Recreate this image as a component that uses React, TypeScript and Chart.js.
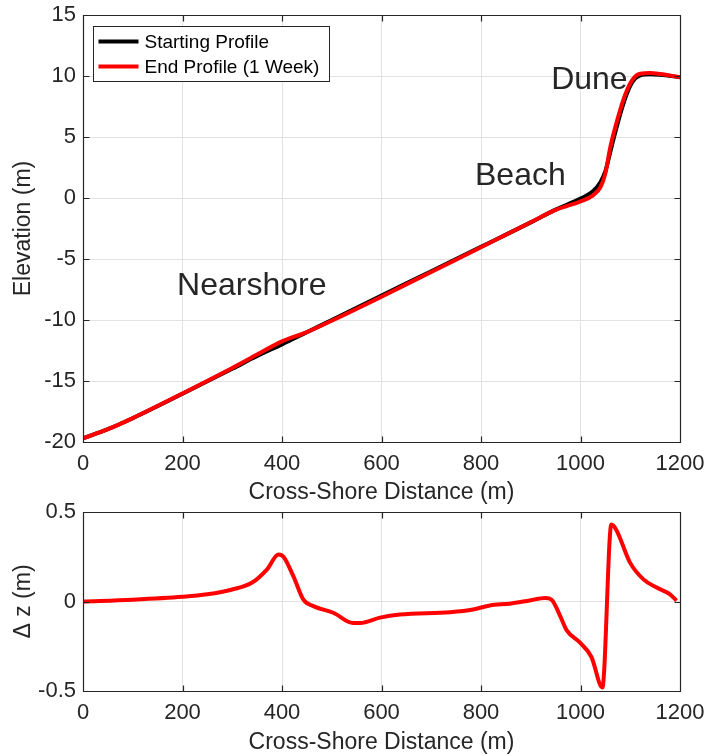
import { useEffect, useRef } from "react";
import { Chart, registerables } from "chart.js";

Chart.register(...registerables);

// ---------- data ----------
const profileDistance = [0, 50, 100, 200, 300, 350, 400, 450, 500, 600, 700, 800, 900, 950, 1000, 1025, 1040, 1050, 1060, 1070, 1080, 1090, 1100, 1110, 1120, 1140, 1160, 1200];
const startingProfile = [-19.7, -18.95, -18.05, -16.05, -14.0, -12.95, -12.0, -11.0, -10.0, -8.0, -6.0, -4.0, -2.0, -0.95, -0.05, 0.55, 1.3, 2.2, 3.8, 5.4, 6.9, 8.2, 9.2, 9.8, 10.05, 10.15, 10.1, 9.9];
const endProfile = [-19.7, -18.95, -18.04, -16.02, -13.93, -12.83, -11.75, -10.99, -10.06, -8.09, -6.06, -4.04, -1.99, -0.98, -0.28, 0.22, 0.88, 2.02, 4.18, 5.81, 7.25, 8.48, 9.41, 9.97, 10.19, 10.24, 10.16, 9.9];

const dzDistance = [0, 100, 200, 250, 300, 340, 370, 393, 403, 423, 443, 463, 503, 543, 557, 597, 637, 738, 784, 818, 858, 898, 929, 942, 959, 972, 999, 1022, 1044, 1062, 1072, 1099, 1126, 1153, 1180, 1193];
const dzValues = [0.0, 0.01, 0.026, 0.04, 0.067, 0.106, 0.18, 0.263, 0.25, 0.14, 0.01, -0.026, -0.063, -0.12, -0.12, -0.09, -0.073, -0.06, -0.045, -0.022, -0.012, 0.006, 0.02, 0.01, -0.08, -0.16, -0.23, -0.31, -0.48, 0.43, 0.4, 0.22, 0.125, 0.078, 0.04, 0.005];

const seriesLabels = ["Starting Profile", "End Profile (1 Week)"];
const seriesColors = ["#000000", "#ff0000"];

const regionNames = ["Nearshore", "Beach", "Dune"];
const regionDistance = [189, 788, 941];
const regionElevation = [-7.95, 1.07, 8.93];

const xMin = 0, xMax = 1200, xStep = 200;
const elevMin = -20, elevMax = 15, elevStep = 5;
const dzMin = -0.5, dzMax = 0.5, dzStep = 0.5;

const xTitle = "Cross-Shore Distance (m)";
const elevTitle = "Elevation (m)";
const dzTitle = "\u0394 z (m)";

// ---------- styling ----------
const FONT = "'Liberation Sans', Arial, Helvetica, sans-serif";
const TEXT = "#262626";
const GRID = "#e2e2e2";

const boxPlugin = {
  id: "matlabBox",
  afterDatasetsDraw(chart: any) {
    const { ctx, chartArea: a, scales } = chart;
    const L = Math.round(a.left) + 0.5, R = Math.round(a.right) + 0.5;
    const T = Math.round(a.top) + 0.5, B = Math.round(a.bottom) + 0.5;
    ctx.save();
    ctx.strokeStyle = TEXT;
    ctx.lineWidth = 1.2;
    ctx.beginPath();
    ctx.rect(L, T, R - L, B - T);
    const tl = 6;
    scales.x.ticks.forEach((t: any) => {
      const p = Math.round(scales.x.getPixelForValue(t.value)) + 0.5;
      ctx.moveTo(p, B); ctx.lineTo(p, B - tl);
      ctx.moveTo(p, T); ctx.lineTo(p, T + tl);
    });
    scales.y.ticks.forEach((t: any) => {
      const p = Math.round(scales.y.getPixelForValue(t.value)) + 0.5;
      ctx.moveTo(L, p); ctx.lineTo(L + tl, p);
      ctx.moveTo(R, p); ctx.lineTo(R - tl, p);
    });
    ctx.stroke();
    ctx.restore();
  },
};

const regionPlugin = {
  id: "regionLabels",
  afterDatasetsDraw(chart: any) {
    const { ctx, scales } = chart;
    ctx.save();
    ctx.fillStyle = TEXT;
    ctx.font = `32px ${FONT}`;
    ctx.textAlign = "left";
    ctx.textBaseline = "alphabetic";
    regionNames.forEach((name, i) => {
      ctx.fillText(name, scales.x.getPixelForValue(regionDistance[i]), scales.y.getPixelForValue(regionElevation[i]));
    });
    ctx.restore();
  },
};

const legendPlugin = {
  id: "boxLegend",
  afterDraw(chart: any) {
    const { ctx, chartArea: a } = chart;
    const x = Math.round(a.left + 10) + 0.5;
    const y = Math.round(a.top + 11) + 0.5;
    const w = 236, h = 55;
    ctx.save();
    ctx.fillStyle = "#ffffff";
    ctx.fillRect(x, y, w, h);
    ctx.strokeStyle = TEXT;
    ctx.lineWidth = 1;
    ctx.strokeRect(x, y, w, h);
    ctx.font = `19px ${FONT}`;
    ctx.textBaseline = "middle";
    ctx.textAlign = "left";
    seriesLabels.forEach((lab, i) => {
      const ry = y + 15 + i * 25;
      ctx.strokeStyle = seriesColors[i];
      ctx.lineWidth = 4;
      ctx.beginPath();
      ctx.moveTo(x + 5, ry);
      ctx.lineTo(x + 45, ry);
      ctx.stroke();
      ctx.fillStyle = "#000000";
      ctx.fillText(lab, x + 51, ry + 1);
    });
    ctx.restore();
  },
};

const plainTick = (v: any) => String(v);

function xScale(height: number, titlePadTop: number) {
  return {
    type: "linear",
    min: xMin,
    max: xMax,
    afterFit(s: any) {
      s.height = height;
      s.paddingLeft = 0;
      s.paddingRight = 0;
    },
    ticks: { stepSize: xStep, color: TEXT, font: { family: FONT, size: 22 }, padding: 9, maxRotation: 0, callback: plainTick },
    grid: { color: GRID, lineWidth: 1, drawTicks: false },
    border: { display: false },
    title: { display: true, text: xTitle, color: TEXT, font: { family: FONT, size: 23 }, padding: { top: titlePadTop, bottom: 0 } },
  };
}

function yScale(min: number, max: number, step: number, title: string) {
  return {
    type: "linear",
    min,
    max,
    afterFit(s: any) {
      s.width = 83;
      s.paddingTop = 0;
      s.paddingBottom = 0;
    },
    ticks: { stepSize: step, color: TEXT, font: { family: FONT, size: 22 }, padding: 7, callback: plainTick },
    grid: { color: GRID, lineWidth: 1, drawTicks: false },
    border: { display: false },
    title: { display: true, text: title, color: TEXT, font: { family: FONT, size: 23 }, padding: { top: 10, bottom: 0 } },
  };
}

const pts = (xs: number[], ys: number[]) => xs.map((x, i) => ({ x, y: ys[i] }));

export default function App() {
  const topRef = useRef<HTMLCanvasElement>(null);
  const botRef = useRef<HTMLCanvasElement>(null);

  useEffect(() => {
    const common = {
      animation: false,
      responsive: false,
      events: [],
    };
    const c1 = new Chart(topRef.current as HTMLCanvasElement, {
      type: "line",
      data: {
        datasets: [
          { label: seriesLabels[0], data: pts(profileDistance, startingProfile), borderColor: seriesColors[0], borderWidth: 4, pointRadius: 0, cubicInterpolationMode: "monotone", order: 1 },
          { label: seriesLabels[1], data: pts(profileDistance, endProfile), borderColor: seriesColors[1], borderWidth: 4, pointRadius: 0, cubicInterpolationMode: "monotone", order: 0 },
        ],
      } as any,
      options: {
        ...common,
        layout: { padding: { top: 15, right: 27, left: 0, bottom: 0 } },
        scales: { x: xScale(64, 2), y: yScale(elevMin, elevMax, elevStep, elevTitle) },
        plugins: { legend: { display: false }, tooltip: { enabled: false } },
      } as any,
      plugins: [boxPlugin, regionPlugin, legendPlugin],
    });
    const c2 = new Chart(botRef.current as HTMLCanvasElement, {
      type: "line",
      data: {
        datasets: [
          { label: "\u0394 z", data: pts(dzDistance, dzValues), borderColor: seriesColors[1], borderWidth: 4, pointRadius: 0, cubicInterpolationMode: "monotone" },
        ],
      } as any,
      options: {
        ...common,
        layout: { padding: { top: 16, right: 27, left: 0, bottom: 0 } },
        scales: { x: xScale(65, 0), y: yScale(dzMin, dzMax, dzStep, dzTitle) },
        plugins: { legend: { display: false }, tooltip: { enabled: false } },
      } as any,
      plugins: [boxPlugin],
    });
    return () => {
      c1.destroy();
      c2.destroy();
    };
  }, []);

  return (
    <div style={{ position: "absolute", left: 0, top: 0, width: 707, height: 756, background: "#ffffff", overflow: "hidden" }}>
      <canvas ref={topRef} width={707} height={506} style={{ position: "absolute", left: 0, top: 0, width: 707, height: 506, display: "block" }} />
      <canvas ref={botRef} width={707} height={260} style={{ position: "absolute", left: 0, top: 496, width: 707, height: 260, display: "block" }} />
    </div>
  );
}
